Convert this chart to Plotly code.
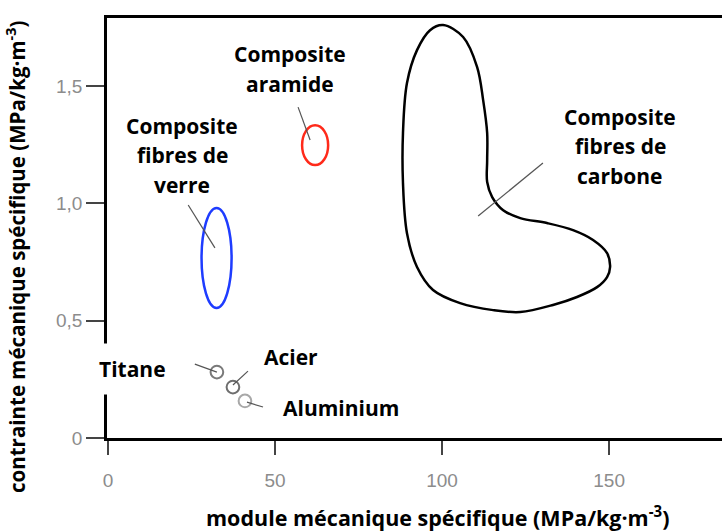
import plotly.graph_objects as go

# ---- data ----
x_ticks = [0, 50, 100, 150]
x_tick_text = ["0", "50", "100", "150"]
y_ticks = [0, 0.5, 1.0, 1.5]
y_tick_text = ["0", "0,5", "1,0", "1,5"]

# carbon fibre composite region outline (module, contrainte)
carbon_x = [100.3, 106.3, 110.5, 112.3, 113.5, 113.5, 113.5, 115.0, 118.3, 123.4, 131.4, 139.2,
            145.2, 149.4, 150.3, 149.4, 146.4, 140.4, 133.2, 123.4, 115.3, 105.4, 97.3, 92.5,
            89.5, 88.3, 88.3, 89.5, 92.5, 96.4, 100.3]
carbon_y = [1.760, 1.709, 1.581, 1.440, 1.300, 1.184, 1.091, 1.027, 0.971, 0.937, 0.916, 0.886,
            0.844, 0.788, 0.729, 0.686, 0.643, 0.601, 0.567, 0.537, 0.545, 0.575, 0.631, 0.729,
            0.873, 1.087, 1.300, 1.513, 1.653, 1.738, 1.760]

# ellipse regions: centre and half-extents
ellipse_names = ["aramide", "verre"]
ellipse_cx = [62.0, 32.5]
ellipse_cy = [1.248, 0.767]
ellipse_rx = [3.9, 4.5]
ellipse_ry = [0.085, 0.213]
ellipse_colors = ["#ff2a1a", "#1e3cff"]

# metals (small circles)
metal_names = ["Titane", "Acier", "Aluminium"]
metal_x = [32.6, 37.4, 41.0]
metal_y = [0.281, 0.217, 0.158]
metal_rx = 1.9
metal_ry = 0.027
metal_colors = ["#7a7a7a", "#6e6e6e", "#a8a8a8"]

# leader lines (x0, y0, x1, y1)
leader_x0 = [24.0, 56.9, 130.2, 26.0, 41.9, 41.6]
leader_y0 = [0.993, 1.410, 1.172, 0.315, 0.285, 0.153]
leader_x1 = [32.0, 60.5, 110.8, 32.6, 37.4, 46.4]
leader_y1 = [0.810, 1.270, 0.946, 0.281, 0.226, 0.132]

# labels: lines, anchor (centre)
label_lines = [["Composite", "aramide"],
               ["Composite", "fibres de", "verre"],
               ["Composite", "fibres de", "carbone"],
               ["Titane"], ["Acier"], ["Aluminium"]]
label_x = [54.5, 22.2, 153.3, 7.2, 54.8, 69.8]
label_y = [1.572, 1.206, 1.244, 0.293, 0.345, 0.128]

x_title = "module mécanique spécifique (MPa/kg·m<sup>-3</sup>)"
y_title = "contrainte mécanique spécifique (MPa/kg·m<sup>-3</sup>)"

# ---- figure ----
LABEL_FONT = dict(family="'Open Sans', sans-serif", size=21, color="black", weight="bold")
TITLE_FONT = dict(family="'Open Sans', sans-serif", size=21.5, color="black", weight="bold")
YTITLE_FONT = dict(family="'Open Sans', sans-serif", size=20.5, color="black", weight="bold")
LINE_SPACING = 29.5

fig = go.Figure()

fig.add_trace(go.Scatter(x=carbon_x, y=carbon_y, mode="lines",
                         line=dict(color="black", width=2.5, shape="spline", smoothing=1.0),
                         hoverinfo="skip", showlegend=False))

shapes = []
for cx, cy, rx, ry, col in zip(ellipse_cx, ellipse_cy, ellipse_rx, ellipse_ry, ellipse_colors):
    shapes.append(dict(type="circle", xref="x", yref="y", x0=cx - rx, x1=cx + rx,
                       y0=cy - ry, y1=cy + ry, line=dict(color=col, width=2.5)))
for mx, my, col in zip(metal_x, metal_y, metal_colors):
    shapes.append(dict(type="circle", xref="x", yref="y", x0=mx - metal_rx, x1=mx + metal_rx,
                       y0=my - metal_ry, y1=my + metal_ry, line=dict(color=col, width=2)))
for x0, y0, x1, y1 in zip(leader_x0, leader_y0, leader_x1, leader_y1):
    shapes.append(dict(type="line", xref="x", yref="y", x0=x0, y0=y0, x1=x1, y1=y1,
                       line=dict(color="#555555", width=1.2)))

annotations = []
for lines, lx, ly in zip(label_lines, label_x, label_y):
    n = len(lines)
    for i, t in enumerate(lines):
        shift = ((n - 1) / 2 - i) * LINE_SPACING
        ann = dict(x=lx, y=ly, xref="x", yref="y", text=t, showarrow=False,
                   yshift=shift, font=LABEL_FONT, xanchor="center", yanchor="middle")
        if t == "Titane":
            ann.update(bgcolor="white", borderpad=11)
        annotations.append(ann)

annotations.append(dict(x=0.537, y=-0.188, xref="paper", yref="paper", text=x_title,
                        showarrow=False, font=TITLE_FONT, xanchor="center", yanchor="middle"))
annotations.append(dict(x=-0.147, y=0.430, xref="paper", yref="paper", text=y_title,
                        showarrow=False, font=YTITLE_FONT, textangle=-90,
                        xanchor="center", yanchor="middle"))

TICK_FONT = dict(family="'Liberation Sans', Arial, sans-serif", size=19, color="#8c8c8c")

fig.update_layout(
    width=722, height=531,
    margin=dict(l=107, r=0, t=18, b=93, autoexpand=False),
    paper_bgcolor="white", plot_bgcolor="white",
    shapes=shapes, annotations=annotations,
    xaxis=dict(range=[-0.3, 183.8], tickvals=x_ticks, ticktext=x_tick_text,
               showgrid=False, zeroline=False, showline=True, linecolor="black", linewidth=2.5,
               mirror=True, ticks="outside", ticklen=14, tickwidth=1.5, tickcolor="#444444",
               tickfont=TICK_FONT, ticklabelstandoff=9, fixedrange=True),
    yaxis=dict(range=[0, 1.79], tickvals=y_ticks, ticktext=y_tick_text,
               showgrid=False, zeroline=False, showline=True, linecolor="black", linewidth=2.5,
               ticks="outside", ticklen=18, tickwidth=1.5, tickcolor="#444444",
               tickfont=TICK_FONT, fixedrange=True),
    showlegend=False,
)

fig.write_html("out.html", config={"displayModeBar": False},
               post_script="document.body.style.margin='0';document.body.style.padding='0';")
